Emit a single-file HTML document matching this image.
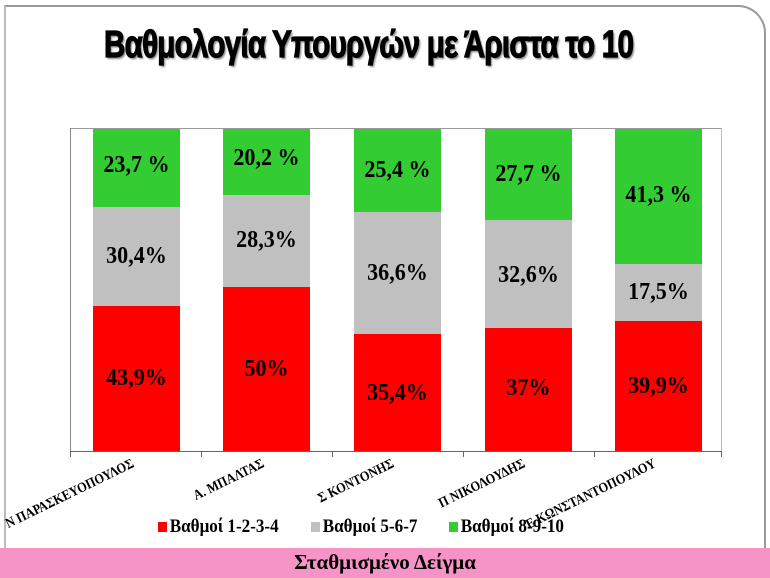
<!DOCTYPE html>
<html><head><meta charset="utf-8"><style>
body{margin:0;width:770px;height:578px;overflow:hidden;background:#fff;position:relative;font-family:"Liberation Serif",serif}
.frame{position:absolute;left:4px;top:5px;width:758px;height:560px;border:2px solid #999;border-radius:0 28px 0 0;border-bottom:none;border-left-color:#bbb}
.title{position:absolute;left:104px;top:24px;font-family:"Liberation Sans Narrow","Liberation Sans",sans-serif;font-weight:bold;font-size:38px;color:#000;-webkit-text-stroke:1.2px #000;text-shadow:2px 2px 2px #888;transform:scaleX(0.78);transform-origin:left top;white-space:nowrap;letter-spacing:-1px}
.pink{position:absolute;left:0;top:548px;width:770px;height:30px;background:#f794c7;text-align:center;font-weight:bold;font-size:21px;line-height:28px}
.bar{position:absolute;width:87px}
.lab{position:absolute;width:87px;text-align:center;font-weight:bold;font-size:24px;transform:scaleX(0.92)}
.cat{position:absolute;font-weight:bold;font-size:14px;white-space:nowrap;transform:rotate(-26deg) scaleX(0.88);transform-origin:right bottom;text-align:right}
.leg{position:absolute;top:516px;font-size:19px;font-weight:bold;white-space:nowrap;transform:scaleX(0.9);transform-origin:left center}
.sw{display:inline-block;width:10px;height:10px;margin-right:3px}
</style></head><body>
<div class="frame"></div>
<div class="title">Βαθμολογία Υπουργών με Άριστα το 10</div>
<div style="position:absolute;left:70px;top:128px;width:652px;height:1px;background:#999"></div>
<div style="position:absolute;left:721px;top:128px;width:1px;height:323px;background:#bbb"></div>
<div style="position:absolute;left:70px;top:128px;width:1px;height:324px;background:#888"></div>
<div style="position:absolute;left:70px;top:451px;width:652px;height:1px;background:#666"></div>
<div style="position:absolute;left:70px;top:451px;width:1px;height:6px;background:#666"></div>
<div style="position:absolute;left:201px;top:451px;width:1px;height:6px;background:#666"></div>
<div style="position:absolute;left:332px;top:451px;width:1px;height:6px;background:#666"></div>
<div style="position:absolute;left:463px;top:451px;width:1px;height:6px;background:#666"></div>
<div style="position:absolute;left:594px;top:451px;width:1px;height:6px;background:#666"></div>
<div style="position:absolute;left:721px;top:451px;width:1px;height:6px;background:#666"></div>

<div class="bar" style="left:93px;top:129px;height:78px;background:#33cc33"></div>
<div class="bar" style="left:93px;top:207px;height:99px;background:#c0c0c0"></div>
<div class="bar" style="left:93px;top:306px;height:145px;background:#ff0000"></div>
<div class="bar" style="left:223px;top:129px;height:66px;background:#33cc33"></div>
<div class="bar" style="left:223px;top:195px;height:92px;background:#c0c0c0"></div>
<div class="bar" style="left:223px;top:287px;height:164px;background:#ff0000"></div>
<div class="bar" style="left:354px;top:129px;height:83px;background:#33cc33"></div>
<div class="bar" style="left:354px;top:212px;height:122px;background:#c0c0c0"></div>
<div class="bar" style="left:354px;top:334px;height:117px;background:#ff0000"></div>
<div class="bar" style="left:485px;top:129px;height:91px;background:#33cc33"></div>
<div class="bar" style="left:485px;top:220px;height:108px;background:#c0c0c0"></div>
<div class="bar" style="left:485px;top:328px;height:123px;background:#ff0000"></div>
<div class="bar" style="left:615px;top:129px;height:135px;background:#33cc33"></div>
<div class="bar" style="left:615px;top:264px;height:57px;background:#c0c0c0"></div>
<div class="bar" style="left:615px;top:321px;height:130px;background:#ff0000"></div>

<div class="lab" style="left:93px;top:152px">23,7 %</div>
<div class="lab" style="left:93px;top:243px">30,4%</div>
<div class="lab" style="left:93px;top:365px">43,9%</div>
<div class="lab" style="left:223px;top:145px">20,2 %</div>
<div class="lab" style="left:223px;top:227px">28,3%</div>
<div class="lab" style="left:223px;top:356px">50%</div>
<div class="lab" style="left:354px;top:157px">25,4 %</div>
<div class="lab" style="left:354px;top:260px">36,6%</div>
<div class="lab" style="left:354px;top:380px">35,4%</div>
<div class="lab" style="left:485px;top:161px">27,7 %</div>
<div class="lab" style="left:485px;top:262px">32,6%</div>
<div class="lab" style="left:485px;top:375px">37%</div>
<div class="lab" style="left:615px;top:182px">41,3 %</div>
<div class="lab" style="left:615px;top:279px">17,5%</div>
<div class="lab" style="left:615px;top:373px">39,9%</div>

<div class="cat" style="right:633px;top:455px">Ν ΠΑΡΑΣΚΕΥΟΠΟΥΛΟΣ</div>
<div class="cat" style="right:503px;top:455px">Α. ΜΠΑΛΤΑΣ</div>
<div class="cat" style="right:373px;top:455px">Σ ΚΟΝΤΟΝΗΣ</div>
<div class="cat" style="right:242px;top:455px">Π ΝΙΚΟΛΟΥΔΗΣ</div>
<div class="cat" style="right:111px;top:455px">Ε ΚΩΝΣΤΑΝΤΟΠΟΥΛΟΥ</div>

<div class="leg" style="left:158px"><span class="sw" style="background:#ff0000"></span>Βαθμοί 1-2-3-4</div>
<div class="leg" style="left:311px"><span class="sw" style="background:#c0c0c0"></span>Βαθμοί 5-6-7</div>
<div class="leg" style="left:449px"><span class="sw" style="background:#33cc33"></span>Βαθμοί 8-9-10</div>

<div class="pink">Σταθμισμένο Δείγμα</div>
</body></html>
